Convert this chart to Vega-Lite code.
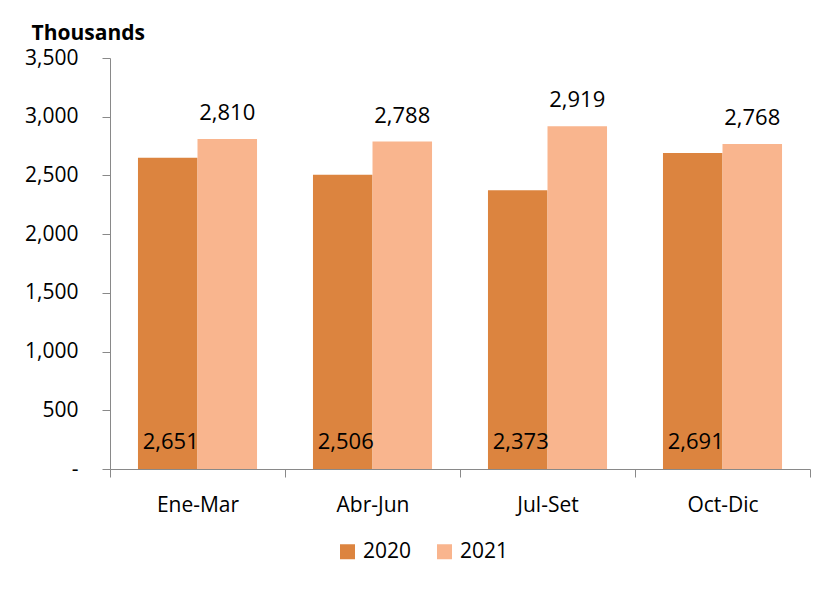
{
  "$schema": "https://vega.github.io/schema/vega-lite/v6.json",
  "width": 700,
  "height": 411,
  "autosize": {"type": "none"},
  "padding": {"left": 110, "top": 58, "right": 7, "bottom": 120},
  "background": "white",
  "config": {"font": "Open Sans", "view": {"stroke": null}},
  "data": {
    "values": [
      {"q": "Ene-Mar", "year": "2020", "v": 2651},
      {"q": "Ene-Mar", "year": "2021", "v": 2810},
      {"q": "Abr-Jun", "year": "2020", "v": 2506},
      {"q": "Abr-Jun", "year": "2021", "v": 2788},
      {"q": "Jul-Set", "year": "2020", "v": 2373},
      {"q": "Jul-Set", "year": "2021", "v": 2919},
      {"q": "Oct-Dic", "year": "2020", "v": 2691},
      {"q": "Oct-Dic", "year": "2021", "v": 2768}
    ]
  },
  "encoding": {
    "x": {
      "field": "q", "type": "nominal",
      "sort": ["Ene-Mar", "Abr-Jun", "Jul-Set", "Oct-Dic"],
      "scale": {"paddingInner": 0, "paddingOuter": 0},
      "axis": {
        "title": null, "labelAngle": 0, "tickBand": "extent",
        "labelFontSize": 21, "labelColor": "#000000",
        "domainColor": "#898989", "tickColor": "#898989",
        "tickSize": 8, "labelPadding": 17
      }
    },
    "xOffset": {"field": "year", "type": "nominal", "scale": {"paddingOuter": 0.47}}
  },
  "layer": [
    {
      "mark": {"type": "bar"},
      "encoding": {
        "y": {
          "field": "v", "type": "quantitative",
          "scale": {"domain": [0, 3500]},
          "axis": {
            "values": [0, 500, 1000, 1500, 2000, 2500, 3000, 3500],
            "labelExpr": "datum.value == 0 ? '-    ' : format(datum.value, ',')",
            "grid": false,
            "title": "Thousands", "titleAngle": 0, "titleAlign": "left",
            "titleBaseline": "alphabetic", "titleX": -79, "titleY": -19,
            "titleFontWeight": "bold", "titleFontSize": 21, "titleColor": "#000000",
            "labelFontSize": 21, "labelColor": "#000000",
            "domainColor": "#898989", "tickColor": "#898989",
            "tickSize": 8, "labelPadding": 24
          }
        },
        "color": {
          "field": "year", "type": "nominal",
          "scale": {"range": ["#DC843F", "#F9B58E"]},
          "legend": {
            "orient": "none", "legendX": 227, "legendY": 483,
            "direction": "horizontal", "title": null,
            "symbolType": "square", "symbolSize": 225, "symbolStrokeWidth": 0,
            "labelFontSize": 21, "labelColor": "#000000",
            "labelOffset": 5, "columnPadding": 22
          }
        }
      }
    },
    {
      "transform": [{"filter": "datum.year == '2021'"}],
      "mark": {"type": "text", "baseline": "bottom", "dy": -14, "fontSize": 22, "color": "#000000"},
      "encoding": {
        "y": {"field": "v", "type": "quantitative"},
        "text": {"field": "v", "type": "quantitative", "format": ","}
      }
    },
    {
      "transform": [{"filter": "datum.year == '2020'"}],
      "mark": {"type": "text", "baseline": "middle", "dy": -27, "dx": 3, "fontSize": 22, "color": "#000000"},
      "encoding": {
        "y": {"datum": 0, "type": "quantitative"},
        "text": {"field": "v", "type": "quantitative", "format": ","}
      }
    }
  ]
}
